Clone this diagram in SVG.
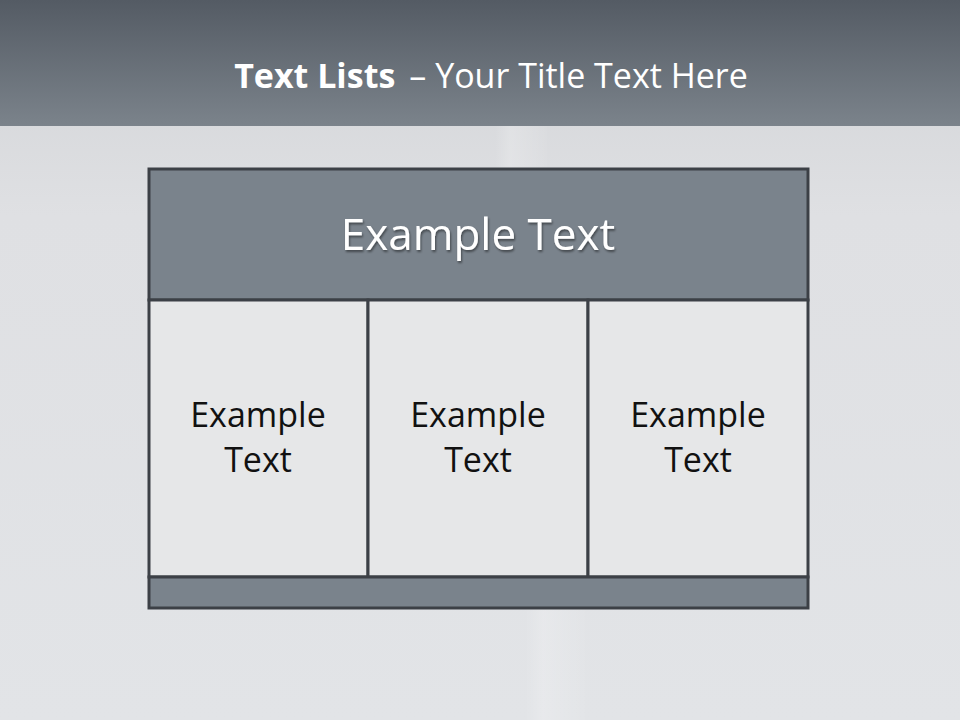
<svg xmlns="http://www.w3.org/2000/svg" width="960" height="720" viewBox="0 0 960 720">
<defs>
<linearGradient id="top" x1="0" y1="0" x2="0" y2="1">
<stop offset="0" stop-color="#545b64"/>
<stop offset="1" stop-color="#7b838b"/>
</linearGradient>
<linearGradient id="bg" x1="0" y1="0" x2="0" y2="1">
<stop offset="0" stop-color="#b1b5ba"/>
<stop offset="0.07" stop-color="#d4d6d9"/>
<stop offset="0.3" stop-color="#dfe0e3"/>
<stop offset="1" stop-color="#e2e4e7"/>
</linearGradient>
<linearGradient id="pillar" x1="0" y1="0" x2="1" y2="0">
<stop offset="0" stop-color="#ffffff" stop-opacity="0"/>
<stop offset="0.3" stop-color="#ffffff" stop-opacity="0.2"/>
<stop offset="1" stop-color="#ffffff" stop-opacity="0.03"/>
</linearGradient>
<filter id="sh" x="-10%" y="-30%" width="120%" height="160%">
<feDropShadow dx="1" dy="2" stdDeviation="1.2" flood-color="#000" flood-opacity="0.45"/>
</filter>
</defs>
<style>
.frame{stroke:#3c4046;stroke-width:3}
.hdr{fill:#7a838c}
.cell{fill:#e6e7e8}
.t{font-family:"Open Sans","Liberation Sans",sans-serif}
.celltxt{font-size:34px;fill:#111;text-anchor:middle}
</style>
<rect width="960" height="720" fill="url(#bg)"/>
<rect x="495" y="125" width="52" height="60" fill="url(#pillar)"/>
<rect x="525" y="608" width="60" height="112" fill="url(#pillar)"/>
<rect width="960" height="126" fill="url(#top)"/>
<text class="t" y="88" font-size="34" fill="#fff" x="491" text-anchor="middle"><tspan font-weight="bold">Text Lists</tspan><tspan dx="14">– Your Title Text Here</tspan></text>
<g id="header">
<rect class="frame hdr" x="149" y="169" width="659" height="131"/>
<text class="t" x="478" y="250" font-size="44" fill="#fff" text-anchor="middle" filter="url(#sh)">Example Text</text>
</g>
<g id="cell1">
<rect class="frame cell" x="149" y="300" width="219" height="277"/>
<text class="t celltxt" x="258" y="427">Example</text>
<text class="t celltxt" x="258" y="472">Text</text>
</g>
<g id="cell2">
<rect class="frame cell" x="368" y="300" width="220" height="277"/>
<text class="t celltxt" x="478" y="427">Example</text>
<text class="t celltxt" x="478" y="472">Text</text>
</g>
<g id="cell3">
<rect class="frame cell" x="588" y="300" width="220" height="277"/>
<text class="t celltxt" x="698" y="427">Example</text>
<text class="t celltxt" x="698" y="472">Text</text>
</g>
<g id="footer">
<rect class="frame hdr" x="149" y="577" width="659" height="31"/>
</g>
<g id="connectors"/>
</svg>
